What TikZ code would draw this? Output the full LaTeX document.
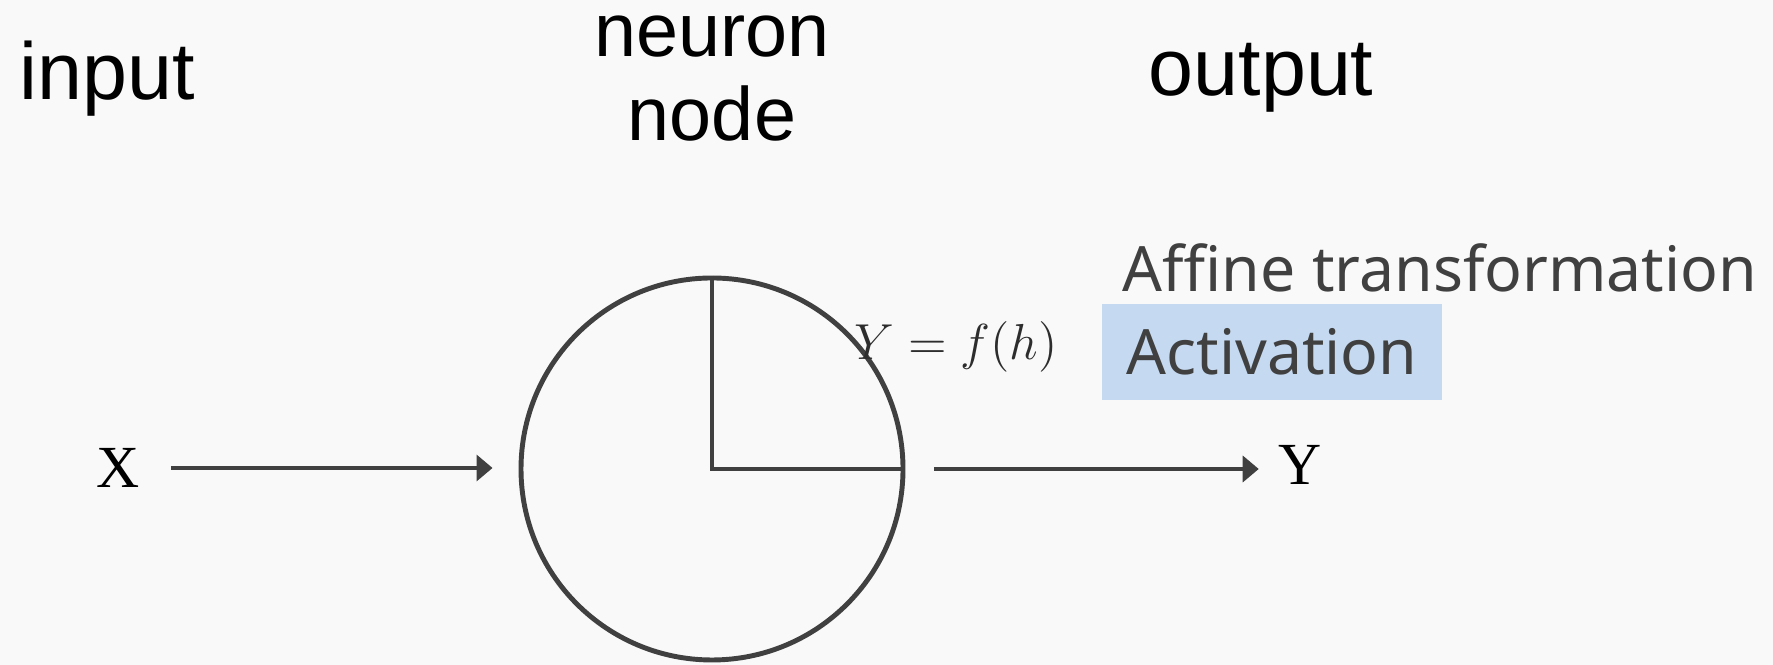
\documentclass[tikz,border=0pt]{standalone}
\usepackage{amsmath}
\usepackage{fontspec}
\setmainfont{Liberation Sans}
\newfontfamily\notofont{Noto Sans}
\newfontfamily\timesfont{Liberation Serif}
\usepackage{xcolor}
\definecolor{ink}{RGB}{64,64,64}
\definecolor{paper}{RGB}{249,249,249}
\definecolor{highlight}{RGB}{197,217,241}
\usetikzlibrary{arrows.meta,positioning,calc}

\begin{document}
\begin{tikzpicture}[
        title/.style={font=\fontsize{23}{24.7}\selectfont, text=black, inner sep=0pt},
        var/.style={font=\timesfont\fontsize{17}{20}\selectfont, text=black, inner sep=0pt},
        stage/.style={font=\notofont\fontsize{17.8}{20}\selectfont, text=ink, inner sep=0pt},
        neuron/.style={circle, draw=ink, line width=1.4pt, minimum size=3.82cm, inner sep=0pt},
        link/.style={-{Triangle[length=1.6mm,width=2.6mm]}, draw=ink, line width=1pt}
    ]
        \fill[paper] (0,0) rectangle (17.73,6.65);
        \useasboundingbox (0,0) rectangle (17.73,6.65);

        \node[title, anchor=base west] (input) at (0.19,5.655) {input};
        \node[title, align=center, anchor=base, font=\fontsize{21.5}{24}\selectfont] (neuronlabel) at (7.12,5.24) {neuron\\node};
        \node[title, anchor=base west] (output) at (11.48,5.69) {output};

        \node[neuron] (neuron) at (7.12,1.96) {};
        \draw[ink, line width=1.1pt] (neuron.north) -- (neuron.center) -- (neuron.east);

        \node[var] (xin) at (1.176,1.97) {X};
        \node[var] (yout) at (13.0,2.0) {Y};

        \node[font=\fontsize{14.5}{17}\selectfont, text=ink!70!black, inner sep=0pt] (formula) at (9.56,3.18) {$Y = f(h)$};

        \node[stage, anchor=base west] (affine) at (11.22,3.73) {Affine transformation};
        \node[stage, fill=highlight, minimum width=3.4cm, minimum height=0.96cm] (activation) at (12.72,3.13) {Activation};

        \draw[link, shorten <=0.31cm, shorten >=0.26cm] (xin.east) -- (xin.east -| neuron.west);
        \draw[link, shorten <=0.29cm, shorten >=0.19cm] (neuron.east) -- (neuron.east -| yout.west);
    \end{tikzpicture}
\end{document}
